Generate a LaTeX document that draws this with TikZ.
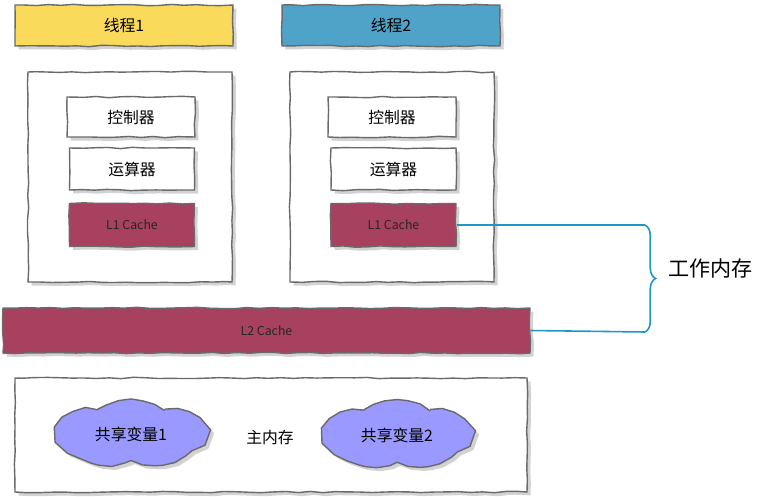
\documentclass[tikz,border=0pt]{standalone}
\usepackage{fontspec}
\newfontfamily\cjk{Noto Sans CJK SC}
\usepackage{xcolor}
\usetikzlibrary{shapes.symbols,shadows,decorations.pathmorphing,decorations.pathreplacing}

\definecolor{thyellow}{HTML}{FADA5A}
\definecolor{thblue}{HTML}{4FA3C9}
\definecolor{cachered}{HTML}{A84060}
\definecolor{varblue}{HTML}{9999FF}
\definecolor{wireblue}{HTML}{1E96C8}
\definecolor{edge}{HTML}{6A6A6A}

\begin{document}
\begin{tikzpicture}
\tikzstyle{every node}=[font=\cjk\fontsize{9}{11}\selectfont]
\tikzstyle{sketch}=[draw=edge,line width=0.8pt,fill=white,decorate,decoration={random steps,segment length=7pt,amplitude=0.4pt},drop shadow={shadow xshift=2pt,shadow yshift=-2pt,opacity=0.35}]
\tikzstyle{cachebox}=[sketch,fill=cachered,font=\cjk\fontsize{7}{9}\selectfont,text=black!85]
\tikzstyle{varcloud}=[sketch,cloud,cloud puffs=7,cloud puff arc=70,aspect=2.2,fill=varblue,inner sep=0pt]
\tikzstyle{wire}=[draw=wireblue,line width=0.9pt]
\useasboundingbox (0,0) rectangle (15.14,-9.92);

\node (rect) at (2.48,-0.51) [sketch,fill=thyellow,minimum width=4.36cm,minimum height=0.82cm](t1) {线程1};
\node (rect) at (7.82,-0.51) [sketch,fill=thblue,minimum width=4.36cm,minimum height=0.82cm](t2) {线程2};

\node (rect) at (2.6,-3.54) [sketch,minimum width=4.08cm,minimum height=4.2cm](p1) {};
\node (rect) at (7.84,-3.54) [sketch,minimum width=4.08cm,minimum height=4.2cm](p2) {};

\node (rect) at (2.62,-2.34) [sketch,minimum width=2.56cm,minimum height=0.8cm](ctl1) {控制器};
\node (rect) at (2.64,-3.38) [sketch,minimum width=2.5cm,minimum height=0.84cm](alu1) {运算器};
\node (rect) at (2.64,-4.5) [cachebox,minimum width=2.5cm,minimum height=0.86cm](l1a) {L1 Cache};

\node (rect) at (7.84,-2.34) [sketch,minimum width=2.56cm,minimum height=0.8cm](ctl2) {控制器};
\node (rect) at (7.87,-3.38) [sketch,minimum width=2.5cm,minimum height=0.84cm](alu2) {运算器};
\node (rect) at (7.87,-4.5) [cachebox,minimum width=2.5cm,minimum height=0.86cm](l1b) {L1 Cache};

\node (rect) at (5.33,-6.61) [cachebox,minimum width=10.54cm,minimum height=0.9cm](l2) {L2 Cache};

\node (rect) at (5.42,-8.7) [sketch,minimum width=10.24cm,minimum height=2.28cm](mem) {};
\node at (5.4,-8.74) (memlabel) {主内存};
\node (var1) at (2.62,-8.68) [varcloud,minimum width=2.94cm,minimum height=1.36cm] {共享变量1};
\node (var2) at (7.94,-8.7) [varcloud,minimum width=2.9cm,minimum height=1.38cm] {共享变量2};

% brace to the working memory label
\coordinate (bt) at (12.9,-4.5);
\coordinate (bb) at (12.9,-6.64);
\path [wire] (l1b.east) -- (bt);
\path [wire] (l2.east) -- (bb);
\path [wire,decorate,decoration={brace,amplitude=6pt}] (bt) -- (bb);
\node [anchor=west,font=\cjk\fontsize{12}{14}\selectfont] at (13.25,-5.38) (work) {工作内存};

\end{tikzpicture}
\end{document}
